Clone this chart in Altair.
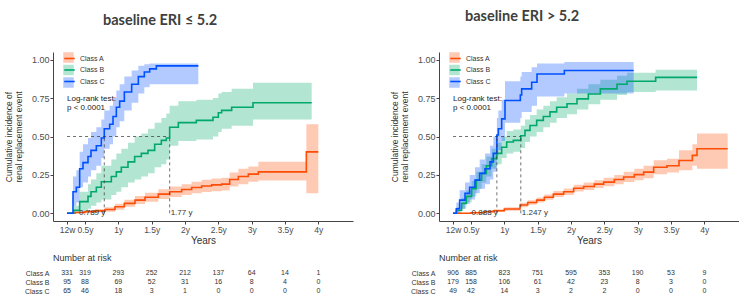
import altair as alt
import pandas as pd

# ---- shared axis / table grid (years) ----
tick_times = [12 / 52, 0.5, 1.0, 1.5, 2.0, 2.5, 3.0, 3.5, 4.0]
tick_labels = ["12w", "0.5y", "1y", "1.5y", "2y", "2.5y", "3y", "3.5y", "4y"]
classes = ["Class A", "Class B", "Class C"]
line_colors = ["#FC4E07", "#00A86B", "#0050FF"]
logrank_lines = ["Log-rank test:", "p < 0.0001"]

# ---- baseline ERI <= 5.2 : cumulative incidence with 95% CI ----
le_a_t = [0.23, 0.35, 0.50, 0.65, 0.80, 0.95, 1.09, 1.25, 1.40, 1.60, 1.77, 1.95, 2.10, 2.25, 2.40, 2.55, 2.67, 2.80, 2.95, 3.10, 3.82, 4.00]
le_a_p = [0.0, 0.005, 0.01, 0.016, 0.025, 0.043, 0.065, 0.086, 0.105, 0.125, 0.14, 0.155, 0.168, 0.178, 0.185, 0.19, 0.22, 0.24, 0.255, 0.27, 0.40, 0.40]
le_a_lo = [0.0, 0.0, 0.002, 0.005, 0.01, 0.024, 0.042, 0.06, 0.076, 0.094, 0.106, 0.12, 0.13, 0.138, 0.144, 0.148, 0.175, 0.19, 0.205, 0.214, 0.13, 0.13]
le_a_hi = [0.0, 0.012, 0.02, 0.028, 0.04, 0.062, 0.088, 0.112, 0.134, 0.156, 0.174, 0.19, 0.206, 0.218, 0.226, 0.232, 0.265, 0.29, 0.305, 0.335, 0.58, 0.58]

le_b_t = [0.23, 0.33, 0.42, 0.545, 0.59, 0.67, 0.745, 0.895, 0.97, 1.045, 1.145, 1.245, 1.345, 1.445, 1.545, 1.645, 1.72, 1.77, 1.90, 2.17, 2.42, 2.50, 2.55, 2.70, 3.02, 3.90]
le_b_p = [0.0, 0.02, 0.076, 0.11, 0.14, 0.17, 0.205, 0.24, 0.27, 0.30, 0.335, 0.37, 0.39, 0.41, 0.45, 0.475, 0.49, 0.56, 0.59, 0.605, 0.625, 0.655, 0.67, 0.69, 0.72, 0.72]
le_b_lo = [0.0, 0.0, 0.01, 0.03, 0.05, 0.07, 0.09, 0.12, 0.14, 0.17, 0.20, 0.22, 0.24, 0.26, 0.30, 0.32, 0.35, 0.44, 0.47, 0.48, 0.50, 0.53, 0.55, 0.57, 0.61, 0.61]
le_b_hi = [0.0, 0.05, 0.14, 0.19, 0.22, 0.26, 0.31, 0.35, 0.39, 0.42, 0.46, 0.50, 0.52, 0.55, 0.59, 0.62, 0.65, 0.70, 0.73, 0.74, 0.75, 0.78, 0.79, 0.81, 0.85, 0.85]

le_c_t = [0.23, 0.32, 0.37, 0.42, 0.47, 0.545, 0.59, 0.67, 0.745, 0.789, 0.87, 0.92, 0.97, 1.02, 1.09, 1.20, 1.30, 1.39, 1.47, 1.57, 2.20]
le_c_p = [0.0, 0.14, 0.17, 0.29, 0.33, 0.37, 0.41, 0.44, 0.49, 0.55, 0.58, 0.63, 0.69, 0.73, 0.79, 0.84, 0.89, 0.92, 0.94, 0.96, 0.96]
le_c_lo = [0.0, 0.05, 0.07, 0.17, 0.20, 0.24, 0.28, 0.31, 0.36, 0.42, 0.45, 0.50, 0.56, 0.60, 0.67, 0.72, 0.78, 0.82, 0.84, 0.84, 0.84]
le_c_hi = [0.0, 0.24, 0.28, 0.40, 0.45, 0.49, 0.53, 0.56, 0.61, 0.67, 0.70, 0.75, 0.80, 0.84, 0.89, 0.93, 0.96, 0.97, 0.975, 0.975, 0.975]

le_medians = [0.789, 1.77]
le_risk_a = [331, 319, 293, 252, 212, 137, 64, 14, 1]
le_risk_b = [95, 88, 69, 52, 31, 16, 8, 4, 0]
le_risk_c = [65, 46, 18, 3, 1, 0, 0, 0, 0]

# ---- baseline ERI > 5.2 ----
gt_a_t = [0.23, 0.50, 0.70, 0.835, 1.00, 1.235, 1.35, 1.485, 1.60, 1.735, 1.89, 2.04, 2.19, 2.35, 2.49, 2.65, 2.79, 2.95, 3.09, 3.24, 3.44, 3.62, 3.82, 3.89, 4.35]
gt_a_p = [0.0, 0.004, 0.01, 0.017, 0.028, 0.054, 0.07, 0.086, 0.105, 0.125, 0.14, 0.163, 0.175, 0.19, 0.203, 0.22, 0.236, 0.252, 0.268, 0.30, 0.31, 0.344, 0.377, 0.42, 0.42]
gt_a_lo = [0.0, 0.0, 0.003, 0.008, 0.017, 0.04, 0.055, 0.07, 0.088, 0.106, 0.12, 0.142, 0.152, 0.165, 0.176, 0.19, 0.204, 0.216, 0.228, 0.255, 0.265, 0.28, 0.31, 0.29, 0.29]
gt_a_hi = [0.0, 0.01, 0.018, 0.026, 0.04, 0.068, 0.085, 0.103, 0.123, 0.145, 0.162, 0.186, 0.2, 0.216, 0.232, 0.25, 0.27, 0.29, 0.31, 0.345, 0.355, 0.41, 0.45, 0.52, 0.52]

gt_b_t = [0.23, 0.28, 0.36, 0.43, 0.51, 0.58, 0.66, 0.73, 0.81, 0.885, 0.96, 1.035, 1.135, 1.247, 1.31, 1.385, 1.485, 1.585, 1.685, 1.785, 1.94, 2.09, 2.26, 2.44, 2.69, 2.84, 3.27, 3.89]
gt_b_p = [0.0, 0.02, 0.065, 0.11, 0.16, 0.216, 0.26, 0.31, 0.356, 0.39, 0.43, 0.464, 0.475, 0.505, 0.54, 0.572, 0.605, 0.63, 0.66, 0.69, 0.713, 0.745, 0.777, 0.81, 0.84, 0.86, 0.885, 0.885]
gt_b_lo = [0.0, 0.0, 0.03, 0.07, 0.11, 0.16, 0.20, 0.24, 0.29, 0.32, 0.36, 0.39, 0.40, 0.425, 0.465, 0.50, 0.53, 0.56, 0.59, 0.62, 0.645, 0.675, 0.71, 0.74, 0.77, 0.79, 0.80, 0.80]
gt_b_hi = [0.0, 0.04, 0.10, 0.15, 0.21, 0.27, 0.32, 0.37, 0.42, 0.46, 0.50, 0.535, 0.545, 0.57, 0.61, 0.64, 0.675, 0.70, 0.73, 0.755, 0.78, 0.81, 0.84, 0.87, 0.895, 0.915, 0.935, 0.935]

gt_c_t = [0.23, 0.28, 0.33, 0.41, 0.48, 0.56, 0.63, 0.71, 0.785, 0.835, 0.888, 0.91, 0.96, 1.01, 1.24, 1.26, 1.41, 1.49, 1.90, 2.94]
gt_c_p = [0.0, 0.03, 0.086, 0.13, 0.17, 0.216, 0.26, 0.29, 0.335, 0.39, 0.51, 0.55, 0.615, 0.734, 0.77, 0.81, 0.853, 0.907, 0.93, 0.93]
gt_c_lo = [0.0, 0.0, 0.03, 0.06, 0.09, 0.13, 0.16, 0.19, 0.22, 0.27, 0.37, 0.41, 0.47, 0.59, 0.62, 0.66, 0.70, 0.76, 0.78, 0.78]
gt_c_hi = [0.0, 0.07, 0.15, 0.20, 0.25, 0.30, 0.35, 0.39, 0.44, 0.50, 0.62, 0.67, 0.74, 0.86, 0.89, 0.92, 0.95, 0.975, 0.985, 0.985]

gt_medians = [0.888, 1.247]
gt_risk_a = [906, 885, 823, 751, 595, 353, 190, 53, 9]
gt_risk_b = [179, 158, 106, 61, 42, 23, 8, 3, 0]
gt_risk_c = [49, 42, 14, 3, 2, 2, 0, 0, 0]

FONT = "Liberation Sans"
TEXT = "#333333"
PLOT_W, PLOT_H, TABLE_H = 300, 169, 27

label_expr = " : ".join(
    f"datum.value == {v!r} ? '{lab}'" for v, lab in zip(tick_times, tick_labels)
) + " : ''"

x_scale = alt.Scale(domain=[0.02, 4.52], nice=False, zero=False)
y_scale = alt.Scale(domain=[-0.05, 1.05], nice=False, zero=False)
x_axis = alt.Axis(values=tick_times, labelExpr=label_expr, title="Years",
                  labelOverlap=False, labelFontSize=8.5, titleFontSize=10,
                  tickSize=3, labelPadding=1, titlePadding=2)
y_axis = alt.Axis(values=[0, 0.25, 0.5, 0.75, 1.0], format=".2f",
                  title=["Cumulative incidence of", "renal replacement event"],
                  labelFontSize=9, titleFontSize=8.5, titleLineHeight=10,
                  tickSize=3, labelPadding=1, titlePadding=8)
# bands use the explicit class order; curves take the same order from the data
fill_scale = alt.Scale(domain=classes, range=line_colors)
stroke_scale = alt.Scale(range=line_colors)


def panel(title, curves, medians, risk, title_offset, title_dx):
    df = pd.concat(
        [pd.DataFrame({"cls": c, "cls_line": c, "t": t, "p": p, "lo": lo, "hi": hi})
         for c, (t, p, lo, hi) in zip(classes, curves)],
        ignore_index=True,
    )
    x = alt.X("t:Q", scale=x_scale, axis=x_axis)
    y = alt.Y("p:Q", scale=y_scale, axis=y_axis)

    # confidence bands (fill legend: square swatches only)
    band = alt.Chart(df).mark_area(interpolate="step-after", opacity=0.3).encode(
        x=x,
        y=alt.Y("lo:Q", scale=y_scale, axis=y_axis),
        y2="hi:Q",
        fill=alt.Fill("cls:N", scale=fill_scale,
                      legend=alt.Legend(title=None, orient="none", legendX=10, legendY=0,
                                        symbolType="square", symbolSize=110,
                                        symbolOpacity=0.3, symbolStrokeWidth=0,
                                        labelExpr="''", labelFontSize=7,
                                        labelOffset=4, rowPadding=1.5, padding=0)),
    )
    # step curves (stroke legend drawn over the swatches)
    line = alt.Chart(df).mark_line(interpolate="step-after", strokeWidth=1.6).encode(
        x=x,
        y=y,
        stroke=alt.Stroke("cls_line:N", scale=stroke_scale,
                          legend=alt.Legend(title=None, orient="none", legendX=10, legendY=0,
                                            symbolType="stroke", symbolSize=110,
                                            symbolStrokeWidth=1.6, labelFontSize=7,
                                            labelColor=TEXT, labelOffset=4,
                                            rowPadding=1.5, padding=0, zindex=1)),
    )

    hline = alt.Chart(pd.DataFrame({"t": [tick_times[0]], "t2": [max(medians)], "p": [0.5]})
                      ).mark_rule(strokeDash=[3, 3], strokeWidth=0.7, color=TEXT).encode(
        x=x, x2="t2:Q", y=y)
    vline = alt.Chart(pd.DataFrame({"t": medians, "p": [0.0] * len(medians),
                                    "p2": [0.5] * len(medians)})
                      ).mark_rule(strokeDash=[3, 3], strokeWidth=0.7, color=TEXT).encode(
        x=x, y=y, y2="p2:Q")

    med_df = pd.DataFrame({"t": medians, "p": [0.0] * len(medians),
                           "label": [f"{m:g} y" for m in medians]})
    med_left = alt.Chart(med_df.iloc[[0]]).mark_text(
        align="right", baseline="middle", fontSize=8, color=TEXT, dx=1).encode(
        x=x, y=y, text="label:N")
    med_right = alt.Chart(med_df.iloc[[1]]).mark_text(
        align="left", baseline="middle", fontSize=8, color=TEXT, dx=1).encode(
        x=x, y=y, text="label:N")

    lr = alt.Chart(pd.DataFrame({"t": [0.23, 0.23], "p": [0.747, 0.688],
                                 "label": logrank_lines})).mark_text(
        align="left", baseline="middle", fontSize=8, color="#222222").encode(
        x=x, y=y, text="label:N")

    plot = alt.layer(band, line, hline, vline, med_left, med_right, lr).properties(
        width=PLOT_W, height=PLOT_H,
        title=alt.Title(title, anchor="start", frame="group", dx=title_dx,
                        offset=title_offset, baseline="alphabetic", fontSize=14.5,
                        fontWeight="bold", font="Lato", color="#404040"),
    )

    risk_df = pd.DataFrame(
        [{"cls": c, "t": t, "n": n} for c, counts in zip(classes, risk)
         for t, n in zip(tick_times, counts)]
    )
    table = alt.Chart(risk_df).mark_text(fontSize=7, color=TEXT).encode(
        x=alt.X("t:Q", scale=x_scale, axis=None),
        y=alt.Y("cls:N", scale=alt.Scale(type="point", domain=classes, padding=0.5),
                axis=alt.Axis(title=None, domain=False, ticks=False, labelFontSize=7,
                              labelColor=TEXT, labelPadding=4)),
        text="n:Q",
    ).properties(
        width=PLOT_W, height=TABLE_H,
        title=alt.Title("Number at risk", anchor="start", frame="group", offset=-1.5,
                        baseline="alphabetic", fontSize=9, fontWeight="normal", color=TEXT),
    )
    return alt.vconcat(plot, table, spacing=7.5).resolve_scale(x="independent", y="independent")


left = panel("baseline ERI \u2264 5.2",
             [(le_a_t, le_a_p, le_a_lo, le_a_hi), (le_b_t, le_b_p, le_b_lo, le_b_hi),
              (le_c_t, le_c_p, le_c_lo, le_c_hi)],
             le_medians, [le_risk_a, le_risk_b, le_risk_c], 13, 50)
right = panel("baseline ERI > 5.2",
              [(gt_a_t, gt_a_p, gt_a_lo, gt_a_hi), (gt_b_t, gt_b_p, gt_b_lo, gt_b_hi),
               (gt_c_t, gt_c_p, gt_c_lo, gt_c_hi)],
              gt_medians, [gt_risk_a, gt_risk_b, gt_risk_c], 17, 26)

chart = alt.hconcat(left, right, spacing=37).resolve_scale(
    x="independent", y="independent", fill="independent", stroke="independent"
).resolve_legend(fill="independent", stroke="independent").configure(
    font=FONT, padding={"left": 4, "top": 8, "right": 0, "bottom": 0}
).configure_view(stroke=None).configure_axis(
    grid=False, domainColor="#444444", tickColor="#444444", labelColor="#4D4D4D",
    titleColor=TEXT, titleFontWeight="normal", labelFont=FONT, titleFont=FONT,
)

chart.save("out.html", embed_options={"renderer": "svg", "actions": False})
